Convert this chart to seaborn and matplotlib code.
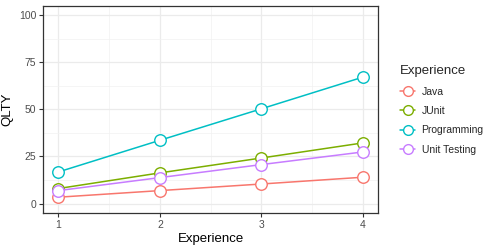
import matplotlib
matplotlib.use("Agg")
import matplotlib.pyplot as plt
import seaborn as sns
import pandas as pd
from matplotlib.ticker import MultipleLocator
from matplotlib.lines import Line2D

experience = [1, 2, 3, 4]
java = [3.4, 6.9, 10.4, 14.0]
junit = [8.0, 16.3, 24.2, 32.2]
programming = [16.8, 33.6, 50.3, 67.1]
unit_testing = [6.9, 13.8, 20.7, 27.4]
groups = ["Java", "JUnit", "Programming", "Unit Testing"]
colors = ["#F8766D", "#7CAE00", "#00BFC4", "#C77CFF"]

rows = []
for g, vals in zip(groups, [java, junit, programming, unit_testing]):
    for x, v in zip(experience, vals):
        rows.append({"Experience": x, "QLTY": v, "Group": g})
df = pd.DataFrame(rows)

sns.set_style("white")
plt.rcParams['font.family'] = ['Liberation Sans', 'DejaVu Sans']

fig = plt.figure(figsize=(4.91, 2.48), dpi=100)
ax = fig.add_axes([0.088, 0.141, 0.682, 0.836])

sns.lineplot(data=df, x="Experience", y="QLTY", hue="Group", palette=colors,
             hue_order=groups, marker="o", markersize=8.3, markerfacecolor="white",
             markeredgewidth=1.0, linewidth=1.1, ax=ax, legend=False, zorder=3)
for line, c in zip(ax.lines, colors):
    line.set_markeredgecolor(c)

ax.set_xlim(0.85, 4.15)
ax.set_ylim(-5, 105)
ax.set_xticks(experience)
ax.set_yticks([0, 25, 50, 75, 100])
ax.xaxis.set_minor_locator(MultipleLocator(0.5))
ax.yaxis.set_minor_locator(MultipleLocator(12.5))
ax.grid(True, which="major", color="#EBEBEB", linewidth=0.9, zorder=0)
ax.grid(True, which="minor", color="#F2F2F2", linewidth=0.5, zorder=0)
ax.set_axisbelow(True)
for s in ax.spines.values():
    s.set_color("#333333")
    s.set_linewidth(0.9)
ax.tick_params(axis="both", which="major", length=3, width=0.8, color="#333333",
               labelsize=7.5, labelcolor="#4D4D4D", pad=2, bottom=True, left=True)
ax.tick_params(axis="both", which="minor", length=0)
ax.set_xlabel("Experience", fontsize=9.5, color="black", labelpad=2)
ax.set_ylabel("QLTY", fontsize=9.5, color="black", labelpad=4)

handles = [Line2D([0], [0], color=c, linewidth=1.1, marker="o", markersize=7,
                  markerfacecolor="white", markeredgecolor=c) for c in colors]
leg = fig.legend(handles, groups, title="Experience", loc="upper left",
                 bbox_to_anchor=(0.795, 0.775), frameon=False, fontsize=7.5,
                 title_fontsize=9.5, handlelength=1.5, handletextpad=0.6,
                 labelspacing=0.9, alignment="left")

fig.savefig("out.png", dpi=100)
